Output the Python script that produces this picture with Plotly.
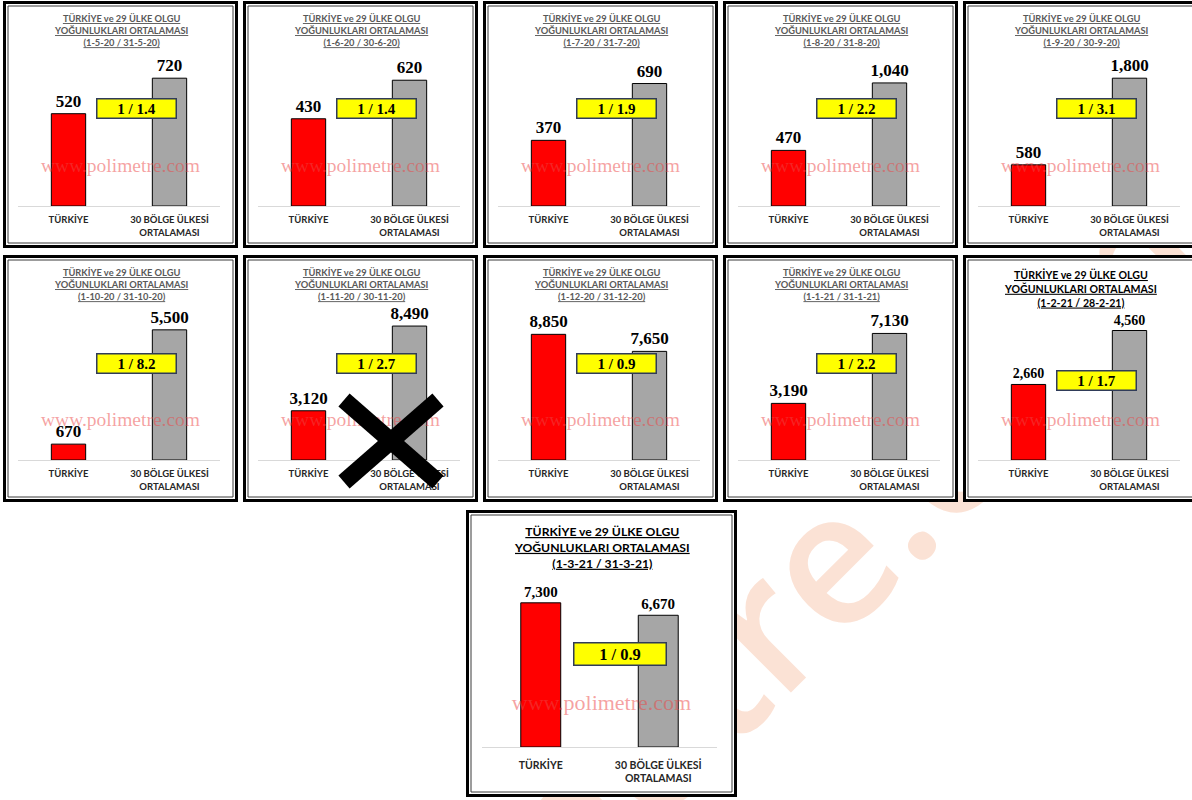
import plotly.graph_objects as go

W, H = 1192, 800

periods = [
    "1-5-20 / 31-5-20", "1-6-20 / 30-6-20", "1-7-20 / 31-7-20", "1-8-20 / 31-8-20",
    "1-9-20 / 30-9-20", "1-10-20 / 31-10-20", "1-11-20 / 30-11-20", "1-12-20 / 31-12-20",
    "1-1-21 / 31-1-21", "1-2-21 / 28-2-21", "1-3-21 / 31-3-21",
]
turkiye = [520, 430, 370, 470, 580, 670, 3120, 8850, 3190, 2660, 7300]
avg_30 = [720, 620, 690, 1040, 1800, 5500, 8490, 7650, 7130, 4560, 6670]
ratios = ["1 / 1.4", "1 / 1.4", "1 / 1.9", "1 / 2.2", "1 / 3.1", "1 / 8.2",
          "1 / 2.7", "1 / 0.9", "1 / 2.2", "1 / 1.7", "1 / 0.9"]
categories = ["TÜRKİYE", "30 BÖLGE ÜLKESİ<br>ORTALAMASI"]
axis_max = [800, 700, 800, 1200, 2000, 6000, 9000, 10000, 8000, 5000, 8000]
title_lines = ["TÜRKİYE ve 29 ÜLKE OLGU", "YOĞUNLUKLARI ORTALAMASI"]
crossed_out = 6  # the 1-11-20 panel has a big X over it

SANS = "Lato, Carlito, sans-serif"
SERIF = "Liberation Serif, Times New Roman, serif"

SMALL = dict(w=235, h=247, plot=(15, 217, 63, 205), title_mid=29, title_size=9.3, title_color="#595959",
             tick_size=9.5, tick_pad=5, value_size=17, ratio_size=15, ratio_box=(80, 20), ratio_y=108,
             wm_y=162, wm_size=19.5)
FEB = dict(SMALL, title_mid=33, title_size=10.6, title_color="#000000", value_size=14, ratio_y=125)
BIG = dict(w=271, h=287, plot=(16, 251, 79, 237), title_mid=37, title_size=12.2, title_color="#000000",
           tick_size=10.5, tick_pad=8, value_size=15, ratio_size=16.5, ratio_box=(93, 23), ratio_y=144,
           wm_y=190, wm_size=22)


def px(x):
    return x / W


def py(y):
    return 1 - y / H


# panel boxes: two rows of five, then one centred below
boxes = []
for row, y0 in enumerate([1, 255]):
    for col in range(5):
        boxes.append((3 + 240 * col, y0))
boxes.append((466, 510))
styles = [SMALL] * 9 + [FEB, BIG]

fig = go.Figure()
shapes = []
annotations = []

# big faint watermark behind the panels
shapes.append(dict(
    type="rect", xref="paper", yref="paper",
    x0=px(709), x1=px(719), y0=py(691), y1=py(681),
    line=dict(width=0), fillcolor="rgba(0,0,0,0)", layer="below",
    label=dict(text="polimetre.com", textangle=-45, textposition="middle center",
               font=dict(family="Open Sans, sans-serif", size=185, color="#FBE2D5", weight=600)),
))

for i, ((bx, by), st) in enumerate(zip(boxes, styles)):
    n = i + 1
    w, h = st["w"], st["h"]
    l, r, t, b = st["plot"]

    # double frame
    shapes.append(dict(type="rect", xref="paper", yref="paper", layer="below",
                       x0=px(bx + 1.5), x1=px(bx + w - 1.5), y0=py(by + 1.5), y1=py(by + h - 1.5),
                       line=dict(color="#000000", width=3), fillcolor="#FFFFFF"))
    shapes.append(dict(type="rect", xref="paper", yref="paper", layer="below",
                       x0=px(bx + 5), x1=px(bx + w - 5), y0=py(by + 5), y1=py(by + h - 5),
                       line=dict(color="#3A3A3A", width=1), fillcolor="rgba(0,0,0,0)"))

    fig.add_trace(go.Bar(
        x=categories, y=[turkiye[i], avg_30[i]],
        xaxis=f"x{n}", yaxis=f"y{n}",
        marker=dict(color=["#FF0000", "#A6A6A6"], line=dict(color="#000000", width=1)),
        texttemplate="<b>%{y:,.0f}</b>", textposition="outside", constraintext="none",
        textfont=dict(family=SERIF, size=st["value_size"], color="#000000"),
        cliponaxis=False, showlegend=False, hoverinfo="skip",
    ))

    fig.layout[f"xaxis{n}"] = dict(
        domain=[px(bx + l), px(bx + r)], anchor=f"y{n}", type="category",
        showline=True, linecolor="#D9D9D9", linewidth=1, showgrid=False, zeroline=False,
        ticks="", ticklabelstandoff=st["tick_pad"], fixedrange=True,
        tickfont=dict(family=SANS, size=st["tick_size"], color="#262626", weight="bold"),
    )
    fig.layout[f"yaxis{n}"] = dict(
        domain=[py(by + b), py(by + t)], anchor=f"x{n}", range=[0, axis_max[i]],
        visible=False, fixedrange=True,
    )

    title = "<br>".join(f"<u>{s}</u>" for s in title_lines + [f"({periods[i]})"])
    annotations.append(dict(
        text=title, xref="paper", yref="paper", x=px(bx + w / 2), y=py(by + st["title_mid"]),
        xanchor="center", yanchor="middle", showarrow=False,
        font=dict(family=SANS, size=st["title_size"], color=st["title_color"], weight="bold"),
    ))

    bw, bh = st["ratio_box"]
    annotations.append(dict(
        text=f"<b>{ratios[i]}</b>", xref="paper", yref="paper",
        x=px(bx + 0.57 * w), y=py(by + st["ratio_y"]), xanchor="center", yanchor="middle",
        showarrow=False, width=bw - 4, height=bh - 4, borderpad=1,
        bgcolor="#FFFF00", bordercolor="#2F3B59", borderwidth=1.5,
        font=dict(family=SERIF, size=st["ratio_size"], color="#000000"),
    ))

    # site stamp over each chart
    shapes.append(dict(
        type="rect", xref="paper", yref="paper", layer="above",
        x0=px(bx + w / 2 - 1), x1=px(bx + w / 2 + 1), y0=py(by + st["wm_y"] + 1), y1=py(by + st["wm_y"] - 1),
        line=dict(width=0), fillcolor="rgba(0,0,0,0)",
        label=dict(text="www.polimetre.com", textposition="middle center",
                   font=dict(family=SERIF, size=st["wm_size"], color="rgba(236,70,70,0.5)")),
    ))

# the X over the November panel
bx, by = boxes[crossed_out]
for (xa, ya, xb, yb) in [(101, 145, 195, 227), (101, 227, 195, 145)]:
    shapes.append(dict(type="line", xref="paper", yref="paper", layer="above",
                       x0=px(bx + xa), y0=py(by + ya), x1=px(bx + xb), y1=py(by + yb),
                       line=dict(color="#000000", width=17)))

fig.update_layout(
    width=W, height=H,
    margin=dict(l=0, r=0, t=0, b=0),
    paper_bgcolor="#FFFFFF", plot_bgcolor="rgba(0,0,0,0)",
    bargap=0.66,
    shapes=shapes, annotations=annotations,
    font=dict(family=SANS),
)

# drop the page's default body margin so the figure sits at the window's corner
fig.write_html("out.html", config={"displayModeBar": False},
               post_script="document.body.style.margin = '0';")
